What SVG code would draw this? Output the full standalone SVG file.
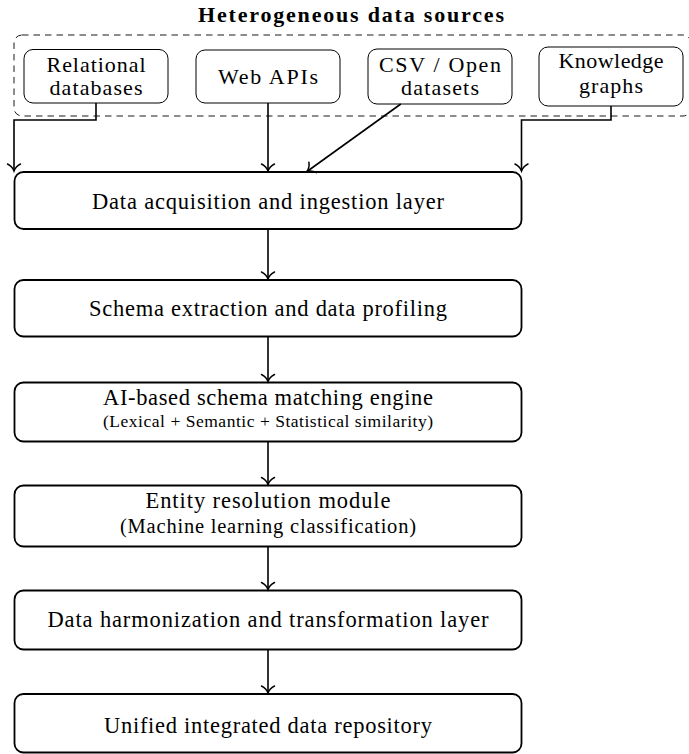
<svg xmlns="http://www.w3.org/2000/svg" width="689" height="754" viewBox="0 0 689 754">
<defs>
<style>
text{font-family:'Liberation Serif','DejaVu Serif',serif;fill:#000;text-anchor:middle}
.title{font-weight:bold;font-size:22px}
.src{font-size:22px}
.main{font-size:22.5px}
.sub{font-size:17.5px}
.sub2{font-size:20.5px}
.srcbox{fill:#fff;stroke:#000;stroke-width:1}
.mainbox{fill:#fff;stroke:#000;stroke-width:1.8}
.group{fill:none;stroke:#000;stroke-width:0.9;stroke-dasharray:6.5 5}
.conn{fill:none;stroke:#000;stroke-width:1.6;marker-end:url(#arr)}
</style>
<marker id="arr" markerUnits="userSpaceOnUse" viewBox="-9 -8 11 16" markerWidth="11" markerHeight="16" refX="0" refY="0" orient="auto" overflow="visible">
<path d="M-7,-6.5 C-5,-2.5 -2,-0.7 0,0 C-2,0.7 -5,2.5 -7,6.5" fill="none" stroke="#000" stroke-width="1.5" stroke-linecap="round"/>
</marker>
</defs>
<g id="sources-group">
<rect class="group" x="14" y="35" width="677" height="81" rx="8"/>
<text class="title" x="351" y="22" font-family="Liberation Serif, serif" textLength="306" lengthAdjust="spacing">Heterogeneous data sources</text>
</g>
<g id="src-relational">
<rect class="srcbox" x="24" y="49.5" width="144" height="53.5" rx="9"/>
<text class="src" x="96" y="72" font-family="Liberation Serif, serif" textLength="99" lengthAdjust="spacing">Relational</text>
<text class="src" x="96" y="95" font-family="Liberation Serif, serif" textLength="93" lengthAdjust="spacing">databases</text>
</g>
<g id="src-webapis">
<rect class="srcbox" x="196" y="50" width="144" height="53" rx="9"/>
<text class="src" x="268" y="84" font-family="Liberation Serif, serif" textLength="100" lengthAdjust="spacing">Web APIs</text>
</g>
<g id="src-csv">
<rect class="srcbox" x="368" y="49" width="144" height="55" rx="9"/>
<text class="src" x="440" y="72" font-family="Liberation Serif, serif" textLength="122" lengthAdjust="spacing">CSV / Open</text>
<text class="src" x="440" y="95" font-family="Liberation Serif, serif" textLength="78" lengthAdjust="spacing">datasets</text>
</g>
<g id="src-knowledge">
<rect class="srcbox" x="539" y="47" width="144" height="59" rx="9"/>
<text class="src" x="611" y="68" font-family="Liberation Serif, serif" textLength="105" lengthAdjust="spacing">Knowledge</text>
<text class="src" x="611" y="93" font-family="Liberation Serif, serif" textLength="64" lengthAdjust="spacing">graphs</text>
</g>
<g id="n-acquisition">
<rect class="mainbox" x="14.5" y="172" width="507" height="57" rx="9"/>
<text class="main" x="268" y="209" font-family="Liberation Serif, serif" textLength="352" lengthAdjust="spacing">Data acquisition and ingestion layer</text>
</g>
<g id="n-schema">
<rect class="mainbox" x="14.5" y="280" width="507" height="56.5" rx="9"/>
<text class="main" x="268" y="316" font-family="Liberation Serif, serif" textLength="358" lengthAdjust="spacing">Schema extraction and data profiling</text>
</g>
<g id="n-matching">
<rect class="mainbox" x="14.5" y="382.5" width="507" height="59" rx="9"/>
<text class="main" x="268" y="405" font-family="Liberation Serif, serif" textLength="330" lengthAdjust="spacing">AI-based schema matching engine</text>
<text class="sub" x="268" y="427" font-family="Liberation Serif, serif" textLength="330" lengthAdjust="spacing">(Lexical + Semantic + Statistical similarity)</text>
</g>
<g id="n-entity">
<rect class="mainbox" x="14.5" y="485.5" width="507" height="61" rx="9"/>
<text class="main" x="268" y="508" font-family="Liberation Serif, serif" textLength="245" lengthAdjust="spacing">Entity resolution module</text>
<text class="sub2" x="268" y="533" font-family="Liberation Serif, serif" textLength="296" lengthAdjust="spacing">(Machine learning classification)</text>
</g>
<g id="n-harmonization">
<rect class="mainbox" x="14.5" y="590.5" width="507" height="59" rx="9"/>
<text class="main" x="268" y="627" font-family="Liberation Serif, serif" textLength="441" lengthAdjust="spacing">Data harmonization and transformation layer</text>
</g>
<g id="n-repository">
<rect class="mainbox" x="14.5" y="694" width="507" height="58.5" rx="9"/>
<text class="main" x="268" y="733" font-family="Liberation Serif, serif" textLength="328" lengthAdjust="spacing">Unified integrated data repository</text>
</g>
<g id="connectors">
<path class="conn" d="M96,103 V120 H14 V171"/>
<path class="conn" d="M268,103 V171"/>
<path class="conn" d="M400.8,104 L307,171.5"/>
<path class="conn" d="M611,106 V120 H521.5 V171"/>
<path class="conn" d="M268,229 V279"/>
<path class="conn" d="M268,336.5 V381.5"/>
<path class="conn" d="M268,441.5 V484.5"/>
<path class="conn" d="M268,546.5 V589.5"/>
<path class="conn" d="M268,649.5 V693"/>
</g>
</svg>
